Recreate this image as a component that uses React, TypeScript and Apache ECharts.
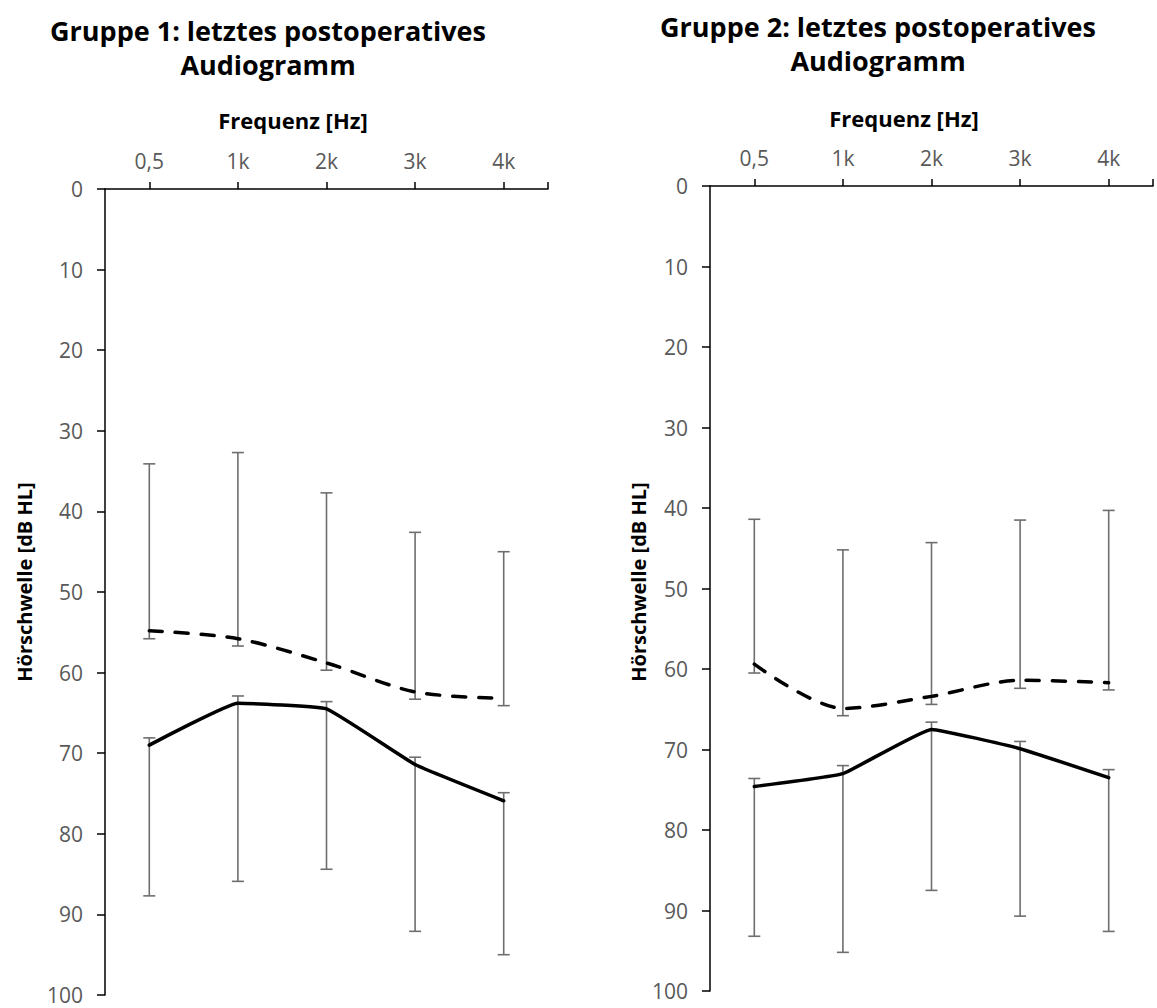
import React, { useEffect, useRef } from 'react';
import * as echarts from 'echarts';

const categories = ['0,5', '1k', '2k', '3k', '4k'];
const yTickValues = [0, 100, 10];

// Gruppe 1
const g1Dashed = [54.8, 55.8, 58.8, 62.4, 63.2];
const g1DashedErrTop = [34.1, 32.7, 37.7, 42.6, 45.0];
const g1DashedErrBottom = [55.8, 56.7, 59.7, 63.3, 64.1];
const g1Solid = [69.0, 63.8, 64.5, 71.4, 75.9];
const g1SolidErrTop = [68.1, 62.9, 63.6, 70.5, 74.9];
const g1SolidErrBottom = [87.7, 85.9, 84.4, 92.1, 95.0];

// Gruppe 2
const g2Dashed = [59.4, 64.9, 63.4, 61.4, 61.7];
const g2DashedErrTop = [41.4, 45.2, 44.3, 41.5, 40.3];
const g2DashedErrBottom = [60.5, 65.8, 64.4, 62.4, 62.6];
const g2Solid = [74.6, 73.0, 67.5, 69.9, 73.5];
const g2SolidErrTop = [73.6, 72.0, 66.6, 69.0, 72.5];
const g2SolidErrBottom = [93.2, 95.2, 87.5, 90.7, 92.6];

const titles = [
  'Gruppe 1: letztes postoperatives\nAudiogramm',
  'Gruppe 2: letztes postoperatives\nAudiogramm',
];
const xName = 'Frequenz [Hz]';
const yName = 'Hörschwelle [dB HL]';

const FONT = '"Open Sans", "Noto Sans", sans-serif';
const AXIS_COLOR = '#000';
const LABEL_COLOR = '#595959';
const ERR_COLOR = '#6e6e6e';

const grids = [
  { left: 105, top: 189, width: 443, height: 806 },
  { left: 710, top: 186, width: 443, height: 805 },
];

function errSeries(idx: number, tops: number[], bottoms: number[]) {
  return {
    type: 'custom',
    xAxisIndex: idx,
    yAxisIndex: idx,
    encode: { x: 0, y: [1, 2] },
    data: categories.map((_, i) => [i, tops[i], bottoms[i]]),
    z: 3,
    renderItem: (params: any, api: any) => {
      const x = api.value(0);
      const p1 = api.coord([x, api.value(1)]);
      const p2 = api.coord([x, api.value(2)]);
      const w = 6;
      const style = { stroke: ERR_COLOR, lineWidth: 1.6, fill: 'none' };
      return {
        type: 'group',
        children: [
          { type: 'line', shape: { x1: p1[0], y1: p1[1], x2: p2[0], y2: p2[1] }, style },
          { type: 'line', shape: { x1: p1[0] - w, y1: p1[1], x2: p1[0] + w, y2: p1[1] }, style },
          { type: 'line', shape: { x1: p2[0] - w, y1: p2[1], x2: p2[0] + w, y2: p2[1] }, style },
        ],
      };
    },
  };
}

function lineSeries(idx: number, data: number[], dashed: boolean) {
  return {
    type: 'line',
    xAxisIndex: idx,
    yAxisIndex: idx,
    data,
    symbol: 'none',
    smooth: dashed ? 0.3 : 0.1,
    z: 4,
    lineStyle: {
      color: '#000',
      width: 3.5,
      type: dashed ? [13, 13] : 'solid',
      cap: 'round',
      join: 'round',
    },
  };
}

export default function App() {
  const ref = useRef<HTMLDivElement>(null);

  useEffect(() => {
    document.body.style.margin = '0';
    if (!ref.current) return;
    const chart = echarts.init(ref.current, undefined, { renderer: 'svg' });

    const xAxes = grids.map((_, i) => ({
      gridIndex: i,
      type: 'category',
      data: categories,
      position: 'top',
      boundaryGap: true,
      axisLine: { show: true, onZero: false, lineStyle: { color: AXIS_COLOR, width: 1.5 } },
      axisTick: { show: true, alignWithLabel: true, length: 7, lineStyle: { color: AXIS_COLOR, width: 1.5 } },
      axisLabel: { color: LABEL_COLOR, fontSize: 21, fontFamily: FONT, margin: 18 },
      splitLine: { show: false },
    }));

    const yAxes = grids.map((_, i) => ({
      gridIndex: i,
      type: 'value',
      inverse: true,
      min: yTickValues[0],
      max: yTickValues[1],
      interval: yTickValues[2],
      axisLine: { show: true, lineStyle: { color: AXIS_COLOR, width: 1.5 } },
      axisTick: { show: true, length: 8, lineStyle: { color: AXIS_COLOR, width: 1.5 } },
      axisLabel: { color: LABEL_COLOR, fontSize: 21, fontFamily: FONT, margin: 22 },
      splitLine: { show: false },
    }));

    const titleY = [47, 43];
    const titleX = [268, 878];
    const xNamePos = [[293, 120], [904, 118]];
    const yNamePos = [[24, 582], [638, 582]];

    const graphics: any[] = [];
    grids.forEach((g, i) => {
      graphics.push({
        type: 'text', x: titleX[i], y: titleY[i],
        style: {
          text: titles[i], font: `bold 27px ${FONT}`, lineHeight: 34, fill: '#000',
          textAlign: 'center', textVerticalAlign: 'middle',
        },
      });
      graphics.push({
        type: 'text', x: xNamePos[i][0], y: xNamePos[i][1],
        style: { text: xName, font: `bold 22px ${FONT}`, fill: '#000', textAlign: 'center', textVerticalAlign: 'middle' },
      });
      graphics.push({
        type: 'text', x: yNamePos[i][0], y: yNamePos[i][1], rotation: Math.PI / 2,
        style: { text: yName, font: `bold 20px ${FONT}`, fill: '#000', textAlign: 'center', textVerticalAlign: 'middle' },
      });
      // end tick on the category axis
      graphics.push({
        type: 'line',
        shape: { x1: g.left + g.width, y1: g.top - 7, x2: g.left + g.width, y2: g.top },
        style: { stroke: AXIS_COLOR, lineWidth: 1.5 },
      });
    });

    chart.setOption({
      animation: false,
      backgroundColor: '#fff',
      grid: grids.map((g) => ({ ...g, containLabel: false })),
      xAxis: xAxes,
      yAxis: yAxes,
      graphic: graphics,
      series: [
        errSeries(0, g1DashedErrTop, g1DashedErrBottom),
        errSeries(0, g1SolidErrTop, g1SolidErrBottom),
        lineSeries(0, g1Dashed, true),
        lineSeries(0, g1Solid, false),
        errSeries(1, g2DashedErrTop, g2DashedErrBottom),
        errSeries(1, g2SolidErrTop, g2SolidErrBottom),
        lineSeries(1, g2Dashed, true),
        lineSeries(1, g2Solid, false),
      ],
    });

    return () => chart.dispose();
  }, []);

  return (
    <div
      ref={ref}
      style={{ position: 'absolute', left: 0, top: 0, width: 1157, height: 1008 }}
    />
  );
}
